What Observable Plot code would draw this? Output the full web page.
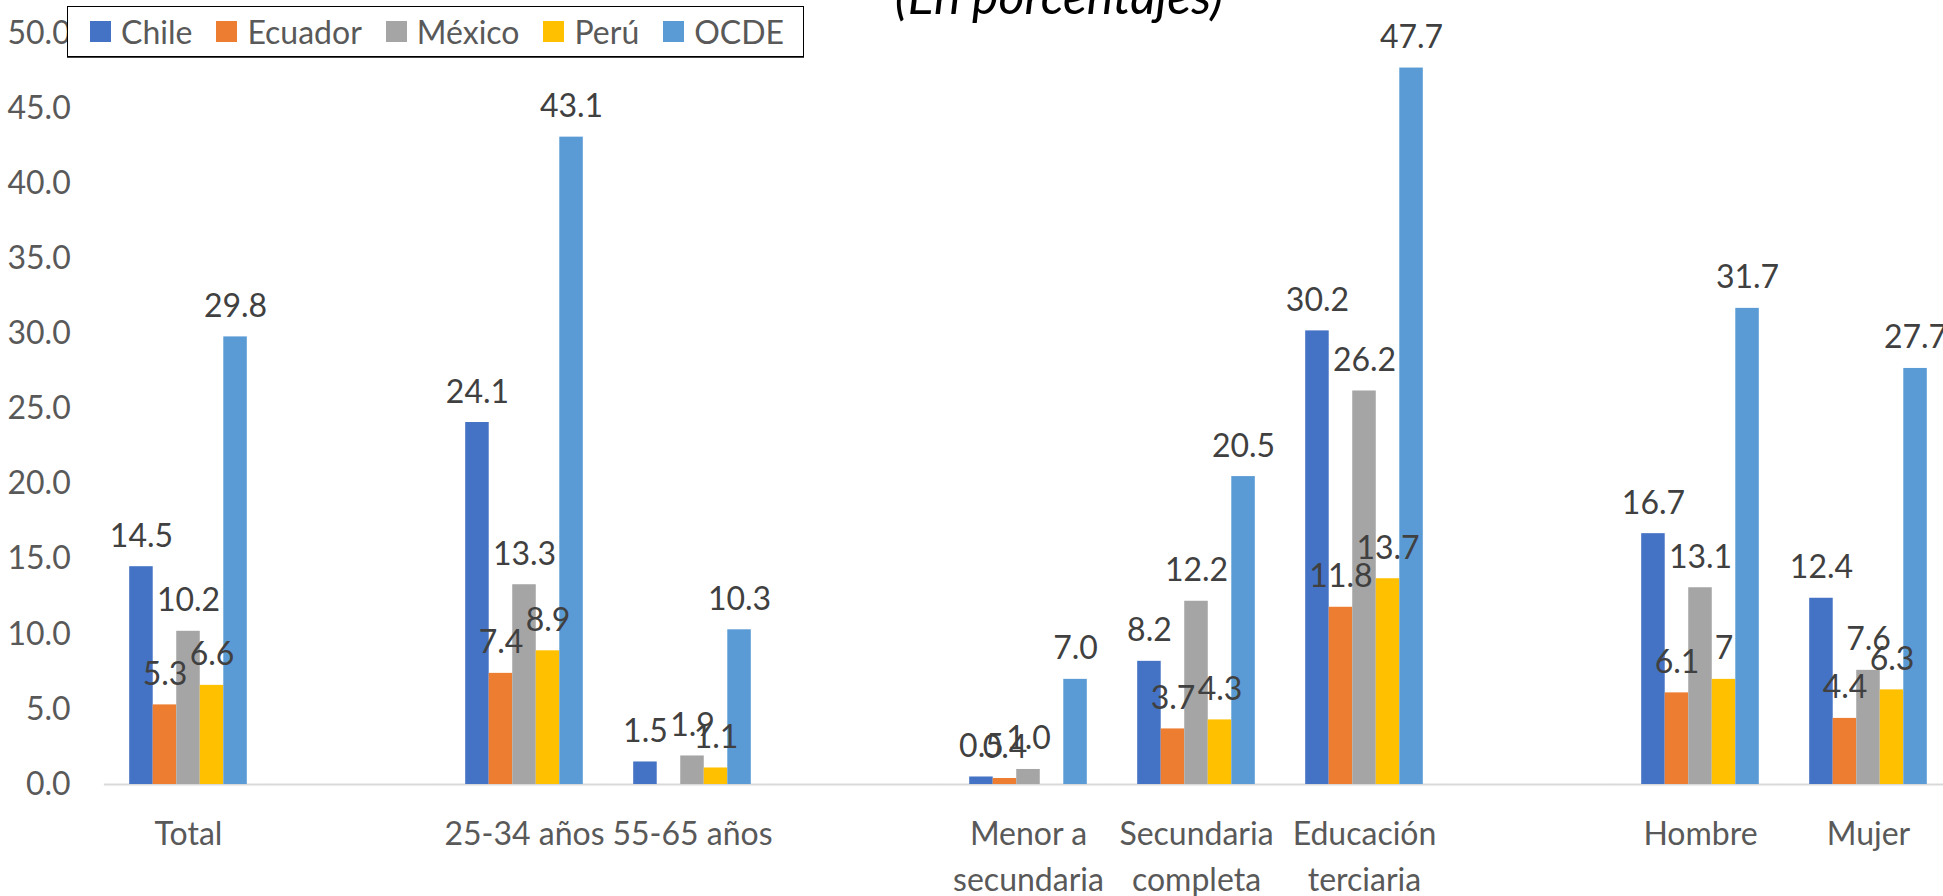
<!DOCTYPE html>
<html>
<head>
<meta charset="utf-8">
<script src="https://cdn.jsdelivr.net/npm/d3@7"></script>
<script src="https://cdn.jsdelivr.net/npm/@observablehq/plot@0.6"></script>
<style>
  html, body { margin: 0; padding: 0; background: #fff; overflow: hidden; }
  #wrap { position: relative; width: 1943px; height: 896px; overflow: hidden; font-family: Lato, "Open Sans", sans-serif; }
  #chart svg { max-width: none !important; }
  #title { position: absolute; left: 0; width: 2118px; top: -35px; text-align: center; font-style: italic; font-size: 50px; line-height: normal; color: #000; white-space: nowrap; }
  #legend { position: absolute; left: 67px; top: 6px; width: 737px; height: 51px; border: 1.5px solid #000; box-shadow: 0 1px 0 #444; background: #fff; display: flex; align-items: center; padding-left: 22px; box-sizing: border-box; }
  .item { display: flex; align-items: center; margin-right: 24px; font-size: 32px; color: #595959; }
  .sw { width: 21px; height: 21px; margin-right: 10px; }
</style>
</head>
<body>
<div id="wrap">
  <div id="chart"></div>
  <div id="title">(En porcentajes)</div>
  <div id="legend"></div>
</div>
<script>
const slots = ["Total", "gap1", "25-34 años", "55-65 años", "gap2", "Menor a\nsecundaria", "Secundaria\ncompleta", "Educación\nterciaria", "gap3", "Hombre", "Mujer"];
const groups = ["Total", "25-34 años", "55-65 años", "Menor a\nsecundaria", "Secundaria\ncompleta", "Educación\nterciaria", "Hombre", "Mujer"];
const series = ["Chile", "Ecuador", "México", "Perú", "OCDE"];
const colors = ["#4472C4", "#ED7D31", "#A5A5A5", "#FFC000", "#5B9BD5"];

const chile   = [14.5, 24.1, 1.5, 0.5, 8.2, 30.2, 16.7, 12.4];
const ecuador = [5.3, 7.4, null, 0.4, 3.7, 11.8, 6.1, 4.4];
const mexico  = [10.2, 13.3, 1.9, 1.0, 12.2, 26.2, 13.1, 7.6];
const peru    = [6.6, 8.9, 1.1, null, 4.3, 13.7, 7.0, 6.3];
const ocde    = [29.8, 43.1, 10.3, 7.0, 20.5, 47.7, 31.7, 27.7];
const peruText = ["6.6", "8.9", "1.1", null, "4.3", "13.7", "7", "6.3"];
const yTicks = [0, 5, 10, 15, 20, 25, 30, 35, 40, 45, 50];

const valuesBySeries = [chile, ecuador, mexico, peru, ocde];
const fmt = d3.format(".1f");
const rows = [];
groups.forEach((g, i) => {
  series.forEach((s, j) => {
    const v = valuesBySeries[j][i];
    if (v == null) return;
    const label = s === "Perú" ? peruText[i] : fmt(v);
    rows.push({group: g, series: s, value: v, label});
  });
});

const chart = Plot.plot({
  width: 1952,
  height: 896,
  marginLeft: 104,
  marginRight: 0,
  marginTop: 33,
  marginBottom: 112,
  style: {fontFamily: "Lato, 'Open Sans', sans-serif", fontSize: "32px", color: "#595959", background: "white", maxWidth: "none"},
  fx: {domain: slots, paddingInner: 0.3, paddingOuter: 0.15, round: false, label: null, axis: null},
  x: {domain: series, padding: 0, round: false, axis: null},
  y: {domain: [0, 50], axis: null},
  color: {domain: series, range: colors},
  marks: [
    Plot.axisY(yTicks, {anchor: "left", tickSize: 0, tickPadding: 59, tickFormat: ".1f", label: null, fill: "#595959", fontSize: 32}),
    Plot.axisFx({anchor: "bottom", tickSize: 0, tickPadding: 27, lineHeight: 1.46, label: null, fill: "#595959", fontSize: 32,
      tickFormat: d => d.startsWith("gap") ? "" : d}),
    Plot.ruleY(slots, {fx: d => d, y: () => 0, stroke: "#D9D9D9", strokeWidth: 2, insetLeft: -25.3, insetRight: -25.3}),
    Plot.barY(rows, {fx: "group", x: "series", y: "value", fill: "series", inset: 0}),
    Plot.text(rows, {fx: "group", x: "series", y: "value", text: "label", lineAnchor: "bottom", dy: -20, fontSize: 32, fill: "#404040"})
  ]
});
document.getElementById("chart").appendChild(chart);

const legend = document.getElementById("legend");
series.forEach((s, j) => {
  const item = document.createElement("div");
  item.className = "item";
  const sw = document.createElement("div");
  sw.className = "sw";
  sw.style.background = colors[j];
  const t = document.createElement("span");
  t.textContent = s;
  item.appendChild(sw);
  item.appendChild(t);
  legend.appendChild(item);
});
</script>
</body>
</html>
